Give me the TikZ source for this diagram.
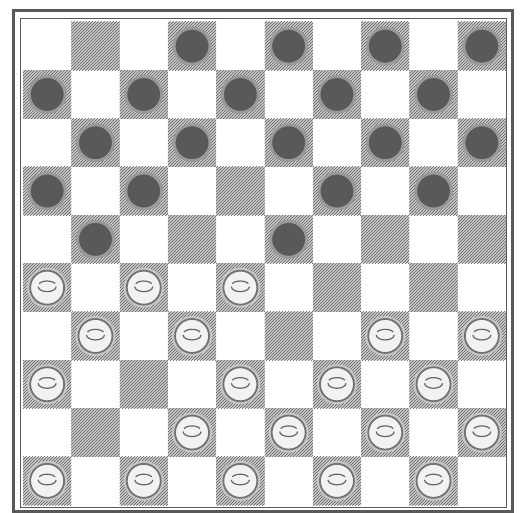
\documentclass[tikz,border=0pt]{standalone}
\usetikzlibrary{patterns}
\tikzset{
  darksq/.style={fill=gray!38, draw=none},
  hatch/.style={pattern=north east lines, pattern color=gray!70!black},
  blackpc/.style={circle, minimum size=36pt, inner sep=0pt, fill=black!65, draw=black!40, line width=3pt},
  whitepc/.style={circle, minimum size=34pt, inner sep=0pt, fill=gray!10, draw=black!55, line width=1.8pt},
  whalo/.style={circle, minimum size=40pt, inner sep=0pt, fill=gray!45, draw=none},
  frameline/.style={draw=black!65}
}
\begin{document}
\begin{tikzpicture}[x=1pt,y=-1pt]
\useasboundingbox (0,0) rectangle (520,513);
\fill[white] (0,0) rectangle (520,513);
% board squares
\def\ox{23}\def\oy{22}\def\sq{48.3}
\foreach \r in {0,...,9}{
  \foreach \c in {0,...,9}{
    \pgfmathtruncatemacro{\parity}{mod(\r+\c,2)}
    \ifnum\parity=1
      \path[darksq] ({\ox+\c*\sq},{\oy+\r*\sq}) rectangle ++(\sq,\sq);
      \path[hatch] ({\ox+\c*\sq},{\oy+\r*\sq}) rectangle ++(\sq,\sq);
    \fi
  }
}
% frame
\draw[frameline, line width=3pt] (13,11) rectangle (512,511);
\draw[frameline, line width=1pt] (20,19) rectangle (506,507);
% black pieces: row/col
\foreach \r/\c in {0/3,0/5,0/7,0/9,
                   1/0,1/2,1/4,1/6,1/8,
                   2/1,2/3,2/5,2/7,2/9,
                   3/0,3/2,3/6,3/8,
                   4/1,4/5}{
  \node[blackpc] (b\r\c) at ({\ox+(\c+0.5)*\sq},{\oy+(\r+0.5)*\sq}) {};
}
% white pieces
\foreach \r/\c in {5/0,5/2,5/4,
                   6/1,6/3,6/7,6/9,
                   7/0,7/4,7/6,7/8,
                   8/3,8/5,8/7,8/9,
                   9/0,9/2,9/4,9/6,9/8}{
  \node[whalo] (h\r\c) at ({\ox+(\c+0.5)*\sq},{\oy+(\r+0.5)*\sq}) {};
  \node[whitepc] (w\r\c) at (h\r\c.center) {};
  \draw[black!60, line width=1.2pt] ([xshift=-9pt,yshift=1pt]w\r\c.center) arc[start angle=180, end angle=360, x radius=9pt, y radius=5pt];
  \draw[black!60, line width=1.2pt] ([xshift=-8pt,yshift=4pt]w\r\c.center) arc[start angle=160, end angle=20, x radius=8.5pt, y radius=4pt];
}
\end{tikzpicture}
\end{document}
